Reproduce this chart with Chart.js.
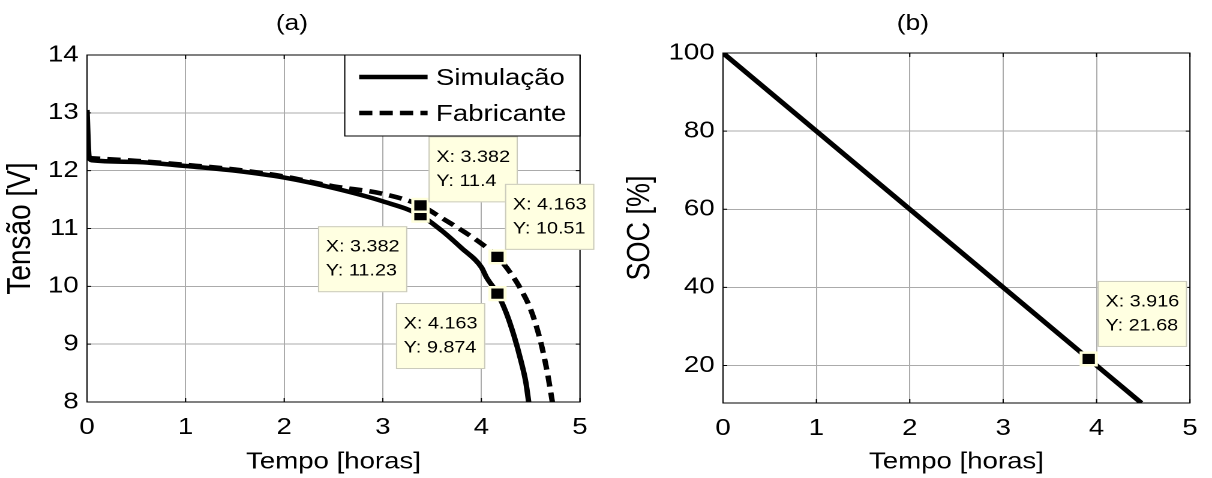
<!DOCTYPE html>
<html><head><meta charset="utf-8">
<script src="https://cdn.jsdelivr.net/npm/chart.js@4.4.0/dist/chart.umd.min.js"></script>
<style>
html,body{margin:0;padding:0;background:#fff;width:1212px;height:478px;overflow:hidden;}
.panel{position:absolute;top:0;width:505px;height:478px;transform:scaleX(1.2);transform-origin:0 0;}
.panel canvas{display:block;}
</style></head><body>
<div class="panel" style="left:0"><canvas id="c1" width="505" height="478" style="width:505px;height:478px"></canvas></div>
<div class="panel" style="left:606px"><canvas id="c2" width="505" height="478" style="width:505px;height:478px"></canvas></div>
<script>
// ---------- data ----------
const timeTicks = [0, 1, 2, 3, 4, 5];
const voltTicks = [8, 9, 10, 11, 12, 13, 14];
const socTicks  = [20, 40, 60, 80, 100];
const seriesLabels = ['Simulação', 'Fabricante'];

const simTime = [0, 0.02, 0.05, 0.5, 1.0, 1.5, 2.0, 2.5, 3.0, 3.382, 3.6, 3.8, 4.0, 4.05, 4.163, 4.25, 4.33, 4.4, 4.45, 4.48];
const simVolt = [13.05, 12.25, 12.18, 12.15, 12.08, 12.0, 11.88, 11.7, 11.47, 11.23, 10.96, 10.66, 10.33, 10.16, 9.874, 9.55, 9.15, 8.72, 8.35, 8.0];

const fabTime = [0, 0.5, 1.0, 1.5, 2.0, 2.5, 3.0, 3.382, 3.6, 3.8, 4.0, 4.163, 4.3, 4.4, 4.5, 4.6, 4.67, 4.72];
const fabVolt = [12.22, 12.17, 12.1, 12.02, 11.9, 11.73, 11.6, 11.4, 11.18, 10.97, 10.74, 10.51, 10.22, 9.95, 9.6, 9.05, 8.5, 8.0];

const socTime  = [0, 1, 2, 3, 3.916, 4.48];
const socValue = [100, 80, 60, 40, 21.68, 10.4];

const tipTimeA = [3.382, 3.382, 4.163, 4.163];
const tipValA  = [11.23, 11.4, 9.874, 10.51];
const tipTimeB = [3.916];
const tipValB  = [21.68];

// ---------- helpers ----------
const FONT = "'Liberation Sans', Arial, sans-serif";
const pts = (xs, ys) => xs.map((x, i) => ({x: x, y: ys[i]}));

const framePlugin = {
  id: 'frame',
  beforeDatasetsDraw(chart) {
    const {ctx, chartArea: a, scales} = chart;
    ctx.save();
    ctx.strokeStyle = '#000';
    ctx.lineWidth = 1;
    ctx.strokeRect(a.left, a.top, a.right - a.left, a.bottom - a.top);
    ctx.beginPath();
    scales.x.ticks.forEach(t => {
      const px = scales.x.getPixelForValue(t.value);
      ctx.moveTo(px, a.bottom); ctx.lineTo(px, a.bottom - 4);
      ctx.moveTo(px, a.top); ctx.lineTo(px, a.top + 4);
    });
    scales.y.ticks.forEach(t => {
      const py = scales.y.getPixelForValue(t.value);
      ctx.moveTo(a.left, py); ctx.lineTo(a.left + 3.5, py);
      ctx.moveTo(a.right, py); ctx.lineTo(a.right - 3.5, py);
    });
    ctx.stroke();
    ctx.restore();
  }
};

const tipPlugin = {
  id: 'dataTips',
  afterDatasetsDraw(chart, args, opts) {
    const {ctx, scales} = chart;
    const offsets = opts.offsets || [];
    chart.data.datasets.forEach(ds => {
      if (!ds.tip) return;
      ds.data.forEach((p, i) => {
        const px = scales.x.getPixelForValue(p.x);
        const py = scales.y.getPixelForValue(p.y);
        const off = offsets[i] || [8, -70];
        const lines = ['X: ' + p.x, 'Y: ' + p.y];
        ctx.save();
        ctx.font = '16.5px ' + FONT;
        const w = Math.max(...lines.map(l => ctx.measureText(l).width)) + 13;
        const h = 66;
        const bx = px + off[0], by = py + off[1];
        ctx.fillStyle = '#ffffe1';
        ctx.fillRect(bx, by, w, h);
        ctx.strokeStyle = '#cacabc';
        ctx.lineWidth = 1;
        ctx.strokeRect(bx + 0.5, by + 0.5, w - 1, h - 1);
        ctx.fillStyle = '#000';
        ctx.textBaseline = 'middle';
        ctx.textAlign = 'left';
        ctx.fillText(lines[0], bx + 6.5, by + 21);
        ctx.fillText(lines[1], bx + 6.5, by + 45);
        ctx.restore();
      });
    });
  }
};

const boxLegendPlugin = {
  id: 'boxLegend',
  afterDraw(chart, args, opts) {
    if (!opts.show) return;
    const {ctx, chartArea: a} = chart;
    const w = 196, h = 81;
    const left = a.right - w, top = a.top;
    ctx.save();
    ctx.fillStyle = '#fff';
    ctx.fillRect(left, top, w, h);
    ctx.strokeStyle = '#000';
    ctx.lineWidth = 1;
    ctx.strokeRect(left, top, w, h);
    const items = chart.data.datasets.filter(ds => !ds.tip);
    items.forEach((ds, i) => {
      const y = top + 22 + i * 36;
      ctx.beginPath();
      ctx.strokeStyle = ds.borderColor;
      ctx.lineWidth = ds.borderWidth;
      ctx.setLineDash(ds.borderDash || []);
      ctx.moveTo(left + 12, y);
      ctx.lineTo(left + 69, y);
      ctx.stroke();
      ctx.setLineDash([]);
      ctx.fillStyle = '#000';
      ctx.font = '23px ' + FONT;
      ctx.textBaseline = 'middle';
      ctx.fillText(ds.label, left + 76, y + 1.5);
    });
    ctx.restore();
  }
};

function axes(cfg) {
  return {
    x: {
      type: 'linear', min: 0, max: 5,
      afterBuildTicks: s => { s.ticks = timeTicks.map(v => ({value: v})); },
      afterFit: s => { s.height = cfg.xHeight; },
      grid: {color: '#ababab', lineWidth: 1, drawTicks: false},
      border: {display: false},
      ticks: {color: '#000', font: {family: FONT, size: 23}, padding: 12, maxRotation: 0},
      title: {display: true, text: 'Tempo [horas]', color: '#000', font: {family: FONT, size: 23}, padding: {top: 0, bottom: 2}}
    },
    y: {
      type: 'linear', min: cfg.yMin, max: cfg.yMax,
      afterBuildTicks: s => { s.ticks = cfg.yTicks.map(v => ({value: v})); },
      afterFit: s => { s.width = cfg.yWidth; },
      grid: {color: '#ababab', lineWidth: 1, drawTicks: false},
      border: {display: false},
      ticks: {color: '#000', font: {family: FONT, size: 23}, padding: 7},
      title: {display: true, text: cfg.yTitle, color: '#000', font: {family: FONT, size: cfg.yTitleSize, lineHeight: 1.0}, padding: {top: cfg.yTitlePad, bottom: 0}}
    }
  };
}

function common(cfg) {
  return {
    responsive: false, animation: false, devicePixelRatio: 2, events: [],
    layout: {padding: {left: cfg.padL, right: cfg.padR, top: 0, bottom: 0}},
    scales: axes(cfg),
    plugins: {
      legend: {display: false}, tooltip: {enabled: false},
      title: {display: true, text: cfg.title, color: '#000', font: {family: FONT, size: 22, weight: 'normal', lineHeight: 1.0}, padding: {top: 13, bottom: cfg.titleBottom}},
      dataTips: {offsets: cfg.tipOffsets},
      boxLegend: {show: cfg.legend}
    }
  };
}

new Chart(document.getElementById('c1'), {
  type: 'scatter',
  data: {datasets: [
    {type: 'scatter', tip: true, data: pts(tipTimeA, tipValA), pointStyle: 'rect', pointRadius: 9, backgroundColor: '#000', borderColor: '#ffffdc', borderWidth: 2.5},
    {label: seriesLabels[0], data: pts(simTime, simVolt), showLine: true, borderColor: '#000', borderWidth: 4.5, pointRadius: 0, cubicInterpolationMode: 'monotone'},
    {label: seriesLabels[1], data: pts(fabTime, fabVolt), showLine: true, borderColor: '#000', borderWidth: 4.5, borderDash: [11, 6], pointRadius: 0, cubicInterpolationMode: 'monotone'}
  ]},
  options: common({
    title: '(a)', titleBottom: 20, padL: 3.3, padR: 21.7, xHeight: 76, yWidth: 69.2,
    yMin: 8, yMax: 14, yTicks: voltTicks, yTitle: 'Tensão [V]', yTitleSize: 28, yTitlePad: 0, legend: true,
    tipOffsets: [[-85.4, 11], [6.7, -69], [-84.6, 9.4], [6.3, -73]]
  }),
  plugins: [framePlugin, tipPlugin, boxLegendPlugin]
});

new Chart(document.getElementById('c2'), {
  type: 'scatter',
  data: {datasets: [
    {type: 'scatter', tip: true, data: pts(tipTimeB, tipValB), pointStyle: 'rect', pointRadius: 9, backgroundColor: '#000', borderColor: '#ffffdc', borderWidth: 2.5},
    {label: 'SOC', data: pts(socTime, socValue), showLine: true, borderColor: '#000', borderWidth: 4.5, pointRadius: 0}
  ]},
  options: common({
    title: '(b)', titleBottom: 18, padL: 14, padR: 7.5, xHeight: 75, yWidth: 83.5,
    yMin: 10.4, yMax: 100, yTicks: socTicks, yTitle: 'SOC [%]', yTitleSize: 27, yTitlePad: 1, legend: false,
    tipOffsets: [[7.5, -78]]
  }),
  plugins: [framePlugin, tipPlugin, boxLegendPlugin]
});
</script>
</body></html>
